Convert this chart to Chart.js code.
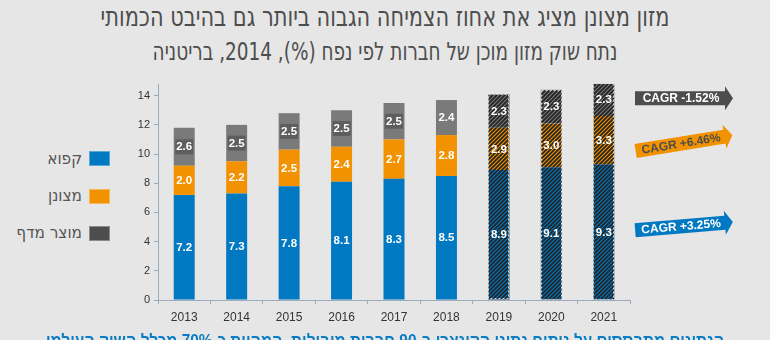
<!DOCTYPE html>
<html lang="he">
<head>
<meta charset="utf-8">
<script src="https://cdn.jsdelivr.net/npm/chart.js@4.4.1/dist/chart.umd.min.js"></script>
<style>
  html, body { margin: 0; padding: 0; }
  body { width: 770px; height: 340px; overflow: hidden; background: #e6e6e6; position: relative; }
  #chart { position: absolute; left: 0; top: 0; }
  .title { position: absolute; left: 0; width: 770px; text-align: center; direction: rtl; white-space: nowrap;
           font-family: 'Liberation Sans Narrow', 'DejaVu Sans Condensed', sans-serif; color: #4d4d4d;
           transform-origin: 385px 0; }
  .legend-box { position: absolute; left: 89px; width: 21px; height: 15px; box-sizing: border-box; border: 1px solid rgba(255,255,255,0.35); }
  .legend-text { position: absolute; right: 688px; direction: rtl; white-space: nowrap;
                 font-family: 'Liberation Sans Narrow', 'DejaVu Sans Condensed', sans-serif; font-size: 17px; color: #555; line-height: 20px; }
  .note { position: absolute; left: 0; width: 770px; top: 332px; text-align: center; direction: rtl; white-space: nowrap;
          font-family: 'Liberation Sans', sans-serif; font-weight: bold; font-size: 16px; color: #0a7cc4;
          transform: scaleX(0.96); transform-origin: 385px 0; }
</style>
</head>
<body>
<div class="title" style="top:2px;font-size:27px;line-height:30px;transform:scaleX(0.86);">מזון מצונן מציג את אחוז הצמיחה הגבוה ביותר גם בהיבט הכמותי</div>
<div class="title" style="top:38px;font-size:25px;line-height:28px;transform:scaleX(0.82);">נתח שוק מזון מוכן של חברות לפי נפח (%), 2014, בריטניה</div>
<div id="legend"></div>
<canvas id="chart" width="770" height="340"></canvas>
<div class="note">הנתונים מתבססים על ניתוח נתוני הקונצרן ב-90 חברות מובילות, המהוות כ-70% מכלל השוק העולמי</div>
<script>
// Years and values per segment (forecast from 2019 on)
const years = ['2013', '2014', '2015', '2016', '2017', '2018', '2019', '2020', '2021'];
const frozen = [7.2, 7.3, 7.8, 8.1, 8.3, 8.5, 8.9, 9.1, 9.3];
const chilled = [2.0, 2.2, 2.5, 2.4, 2.7, 2.8, 2.9, 3.0, 3.3];
const shelf = [2.6, 2.5, 2.5, 2.5, 2.5, 2.4, 2.3, 2.3, 2.3];
const seriesNames = ['קפוא', 'מצונן', 'מוצר מדף'];
const cagrLabels = ['CAGR +3.25%', 'CAGR +6.46%', 'CAGR -1.52%'];
const yTicks = [0, 2, 4, 6, 8, 10, 12, 14];
const firstForecast = 6;

const BLUE = '#0079c2';
const ORANGE = '#f39200';
const GRAY = '#7a7a7a';
const DARK = '#4d4d4d';

// striped fill for forecast bars
function hatch(color) {
  const c = document.createElement('canvas');
  c.width = 4; c.height = 4;
  const g = c.getContext('2d');
  g.fillStyle = color;
  g.fillRect(0, 0, 4, 4);
  g.strokeStyle = '#232323';
  g.lineWidth = 1.7;
  g.beginPath();
  g.moveTo(0, 4); g.lineTo(4, 0);
  g.moveTo(-1, 1); g.lineTo(1, -1);
  g.moveTo(3, 5); g.lineTo(5, 3);
  g.stroke();
  return g.createPattern(c, 'repeat');
}

function fills(color) {
  const p = hatch(color);
  return years.map((y, i) => i >= firstForecast ? p : color);
}

// legend on the left
const legendColors = [BLUE, ORANGE, DARK];
const legendRows = [158.5, 196, 233];
const legendEl = document.getElementById('legend');
seriesNames.forEach((name, i) => {
  const box = document.createElement('div');
  box.className = 'legend-box';
  box.style.top = (legendRows[i] - 7.5) + 'px';
  box.style.background = legendColors[i];
  legendEl.appendChild(box);
  const txt = document.createElement('div');
  txt.className = 'legend-text';
  txt.style.top = (legendRows[i] - 11) + 'px';
  txt.textContent = name;
  legendEl.appendChild(txt);
});

// value labels inside each segment
const segmentLabels = {
  id: 'segmentLabels',
  afterDatasetsDraw(chart) {
    const ctx = chart.ctx;
    ctx.save();
    ctx.font = 'bold 11.5px "Liberation Sans Narrow", "Liberation Sans", sans-serif';
    ctx.textAlign = 'center';
    ctx.textBaseline = 'middle';
    chart.data.datasets.forEach((ds, i) => {
      const meta = chart.getDatasetMeta(i);
      meta.data.forEach((bar, j) => {
        const p = bar.getProps(['x', 'y', 'base'], true);
        const cy = (p.y + p.base) / 2;
        if (i === 2 && j < 5) {
          ctx.fillStyle = '#5e5e5e';
          ctx.fillRect(p.x - 9, cy - 7.5, 18, 15);
        }
        ctx.fillStyle = '#ffffff';
        ctx.fillText(ds.data[j].toFixed(1), p.x, cy + 0.5);
      });
    });
    // dashed outline around forecast stacks
    const top = chart.getDatasetMeta(2);
    const bottom = chart.getDatasetMeta(0);
    ctx.strokeStyle = '#d4d4d4';
    ctx.lineWidth = 1;
    ctx.setLineDash([2, 2]);
    for (let j = firstForecast; j < years.length; j++) {
      const t = top.data[j].getProps(['x', 'y', 'width'], true);
      const b = bottom.data[j].getProps(['base'], true);
      ctx.strokeRect(Math.round(t.x - t.width / 2) + 0.5, Math.round(t.y) + 0.5, Math.round(t.width) - 1, Math.round(b.base - t.y) - 1);
    }
    ctx.restore();
  }
};

// CAGR arrows next to the last bar, one per segment
const cagrArrows = {
  id: 'cagrArrows',
  afterDraw(chart) {
    const y = chart.scales.y;
    const n = years.length - 1;
    const centers = [
      frozen[n] / 2,
      frozen[n] + chilled[n] / 2,
      frozen[n] + chilled[n] + shelf[n] / 2
    ];
    const styles = [
      { fill: BLUE, text: '#ffffff', angle: -4.7, dy: -6 },
      { fill: ORANGE, text: '#4d4d4d', angle: -9.2, dy: 3 },
      { fill: DARK, text: '#ffffff', angle: 0, dy: -1 }
    ];
    const ctx = chart.ctx;
    styles.forEach((s, i) => {
      ctx.save();
      ctx.translate(684, y.getPixelForValue(centers[i]) + s.dy);
      ctx.rotate(s.angle * Math.PI / 180);
      ctx.fillStyle = s.fill;
      ctx.beginPath();
      ctx.moveTo(-49, -7);
      ctx.lineTo(41, -7);
      ctx.lineTo(41, -12);
      ctx.lineTo(49, 0);
      ctx.lineTo(41, 12);
      ctx.lineTo(41, 7);
      ctx.lineTo(-49, 7);
      ctx.closePath();
      ctx.fill();
      ctx.fillStyle = s.text;
      ctx.font = 'bold 12px "Liberation Sans", Arial, sans-serif';
      ctx.textAlign = 'center';
      ctx.textBaseline = 'middle';
      ctx.fillText(cagrLabels[i], -3, 0.5);
      ctx.restore();
    });
  }
};

const axisColor = '#9aabbd';

new Chart(document.getElementById('chart'), {
  type: 'bar',
  data: {
    labels: years,
    datasets: [
      { label: seriesNames[0], data: frozen, backgroundColor: fills(BLUE) },
      { label: seriesNames[1], data: chilled, backgroundColor: fills(ORANGE) },
      { label: seriesNames[2], data: shelf, backgroundColor: fills(GRAY) }
    ]
  },
  options: {
    responsive: false,
    animation: false,
    layout: { padding: { left: 118, right: 140, top: 84, bottom: 10 } },
    datasets: { bar: { barPercentage: 0.4, categoryPercentage: 1, borderWidth: 0 } },
    plugins: {
      legend: { display: false },
      tooltip: { enabled: false }
    },
    scales: {
      x: {
        stacked: true,
        border: { color: axisColor },
        grid: { offset: true, drawOnChartArea: false, tickLength: 4, color: axisColor },
        ticks: { color: '#333', padding: 6, font: { family: '"Liberation Sans", sans-serif', size: 12 } },
        afterFit(scale) { scale.height = 30; }
      },
      y: {
        stacked: true,
        min: 0,
        max: 14.8,
        border: { color: axisColor },
        grid: { drawOnChartArea: false, tickLength: 4, color: axisColor },
        ticks: { stepSize: 2, color: '#333', padding: 4, font: { family: '"Liberation Sans", sans-serif', size: 11 } },
        afterBuildTicks(scale) { scale.ticks = yTicks.map(v => ({ value: v })); },
        afterFit(scale) { scale.width = 40; }
      }
    }
  },
  plugins: [segmentLabels, cagrArrows]
});
</script>
</body>
</html>
